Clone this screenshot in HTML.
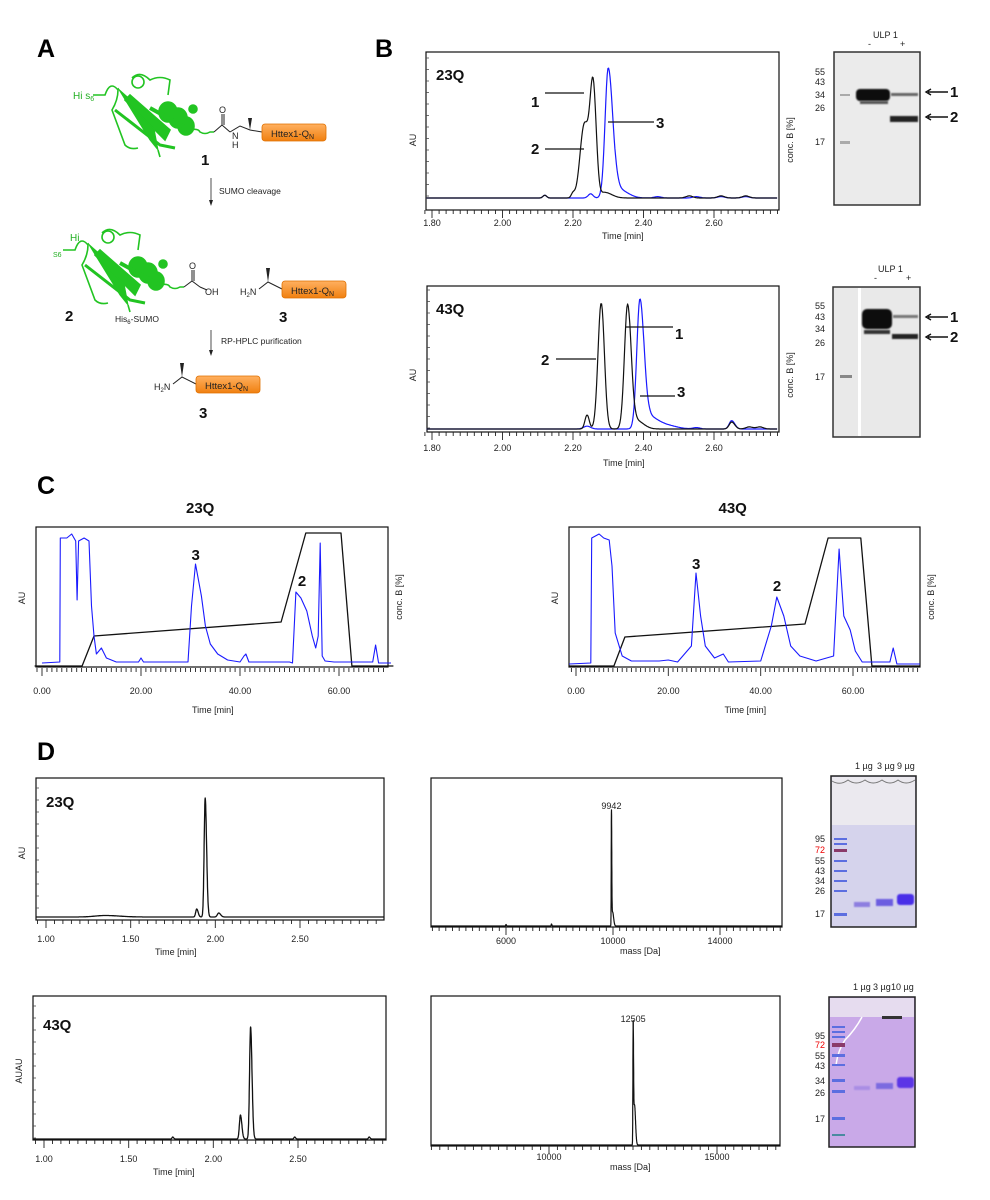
<!DOCTYPE html>
<html><head><meta charset="utf-8">
<style>
html,body{margin:0;padding:0;background:#fff;}
svg{display:block;font-family:"Liberation Sans",sans-serif;}
.tk{font-size:9px;fill:#222;}
.ax{font-size:9px;fill:#222;}
.bl{font-weight:bold;font-size:15px;fill:#111;}
.pl{font-weight:bold;font-size:25px;fill:#000;}
</style></head>
<body>
<svg id="fig" width="990" height="1200" viewBox="0 0 990 1200" xmlns="http://www.w3.org/2000/svg">
<defs>
 <filter id="blur1" x="-50%" y="-50%" width="200%" height="200%"><feGaussianBlur stdDeviation="1.2"/></filter>
 <filter id="blur2" x="-50%" y="-50%" width="200%" height="200%"><feGaussianBlur stdDeviation="0.7"/></filter>
 <linearGradient id="og" x1="0" y1="0" x2="0" y2="1"><stop offset="0" stop-color="#ffb060"/><stop offset="1" stop-color="#f08010"/></linearGradient>
</defs>

<text class="pl" x="37" y="57">A</text>
<text class="pl" x="375" y="57">B</text>
<text class="pl" x="37" y="494">C</text>
<text class="pl" x="37" y="760">D</text>

<g id="protein1" fill="none" stroke="#22c422" stroke-width="1.6">
 <path d="M93,95 L105,95 Q110,80 118,90 Q118,100 112,110 L125,145 Q130,150 138,148"/>
 <path d="M118,88 L150,140 L158,150 L152,118" fill="#22c422" stroke-width="1"/>
 <path d="M125,100 L165,140 L170,130 L130,95 Z" fill="#22c422"/>
 <path d="M115,110 L160,145 L175,148" stroke-width="3"/>
 <circle cx="138" cy="82" r="6"/>
 <path d="M132,78 Q140,70 150,80 Q160,75 170,80 L168,95"/>
 <ellipse cx="168" cy="112" rx="9" ry="10" fill="#22c422"/>
 <ellipse cx="178" cy="118" rx="9" ry="10" fill="#22c422"/>
 <ellipse cx="186" cy="126" rx="8" ry="9" fill="#22c422"/>
 <path d="M150,108 L190,130" stroke-width="4"/>
 <circle cx="193" cy="109" r="4" fill="#22c422"/>
 <path d="M190,130 Q198,128 200,132 Q205,135 210,132 L214,132"/>
 <path d="M158,150 L160,157"/>
</g>
<text x="73" y="99" font-size="10" fill="#22b022">Hi s<tspan font-size="7" dy="2">6</tspan></text>
<path d="M214,132 L222,125 L230,132 M222,125 L222,114 M224,125 L224,114 M230,132 L240,126 L250,130 L262,132" fill="none" stroke="#222" stroke-width="1"/>
<path d="M250,130 L248,118 L252,118 Z" fill="#222"/>
<text x="219" y="113" font-size="9" fill="#222">O</text>
<text x="232" y="139" font-size="9" fill="#222">N</text>
<text x="232" y="148" font-size="9" fill="#222">H</text>
<rect x="262" y="124" width="64" height="17" rx="3" fill="url(#og)" stroke="#e07000" stroke-width="0.8"/>
<text x="271" y="137" font-size="9.5" fill="#222">Httex1-Q<tspan font-size="7" dy="2">N</tspan></text>
<text class="bl" x="201" y="165" font-size="19">1</text>
<path d="M211,178 L211,203" stroke="#222" stroke-width="0.8"/><path d="M209,200 L211,206 L213,200 Z" fill="#222"/>
<text x="219" y="194" font-size="8.5" fill="#222">SUMO cleavage</text>

<use href="#protein1" transform="translate(-30,155)"/>
<text x="70" y="241" font-size="10" fill="#22b022">Hi</text>
<text x="53" y="257" font-size="7" fill="#22b022">S<tspan>6</tspan></text>
<path d="M184,287 L192,281 L200,287 M192,281 L192,270 M194,281 L194,270 M200,287 L207,290" fill="none" stroke="#222" stroke-width="1"/>
<text x="189" y="269" font-size="9" fill="#222">O</text>
<text x="205" y="295" font-size="9" fill="#222">OH</text>
<text class="bl" x="65" y="321" font-size="19">2</text>
<text x="115" y="322" font-size="8.5" fill="#222">His<tspan font-size="6" dy="2">6</tspan><tspan dy="-2">-SUMO</tspan></text>
<text x="240" y="295" font-size="9" fill="#222">H<tspan font-size="6" dy="2">2</tspan><tspan dy="-2">N</tspan></text>
<path d="M259,289 L268,282 L282,289" fill="none" stroke="#222" stroke-width="1"/><path d="M268,282 L266,268 L270,268 Z" fill="#222"/>
<rect x="282" y="281" width="64" height="17" rx="3" fill="url(#og)" stroke="#e07000" stroke-width="0.8"/>
<text x="291" y="294" font-size="9.5" fill="#222">Httex1-Q<tspan font-size="7" dy="2">N</tspan></text>
<text class="bl" x="279" y="322" font-size="19">3</text>
<path d="M211,330 L211,353" stroke="#222" stroke-width="0.8"/><path d="M209,350 L211,356 L213,350 Z" fill="#222"/>
<text x="221" y="344" font-size="8.5" fill="#222">RP-HPLC purification</text>
<text x="154" y="390" font-size="9" fill="#222">H<tspan font-size="6" dy="2">2</tspan><tspan dy="-2">N</tspan></text>
<path d="M173,384 L182,377 L196,384" fill="none" stroke="#222" stroke-width="1"/><path d="M182,377 L180,363 L184,363 Z" fill="#222"/>
<rect x="196" y="376" width="64" height="17" rx="3" fill="url(#og)" stroke="#e07000" stroke-width="0.8"/>
<text x="205" y="389" font-size="9.5" fill="#222">Httex1-Q<tspan font-size="7" dy="2">N</tspan></text>
<text class="bl" x="199" y="418" font-size="19">3</text>

<g>
 <rect x="834" y="52" width="86" height="153" fill="#ebebeb" stroke="#333" stroke-width="1.5"/>
 <rect x="856" y="89" width="34" height="12" rx="4" fill="#111" filter="url(#blur2)"/>
 <rect x="860" y="101" width="28" height="3" fill="#555" filter="url(#blur2)"/>
 <rect x="891" y="93" width="27" height="3" fill="#666" filter="url(#blur2)"/>
 <rect x="890" y="116" width="28" height="6" fill="#222" filter="url(#blur2)"/>
 <rect x="840" y="94" width="10" height="2" fill="#aaa"/>
 <rect x="840" y="141" width="10" height="3" fill="#aaa"/>
</g>
<text class="tk" x="873" y="38">ULP 1</text>
<text class="tk" x="868" y="47">-</text><text class="tk" x="900" y="47">+</text>
<g class="tk" font-size="8.5">
 <text x="815" y="75">55</text><text x="815" y="85">43</text><text x="815" y="98">34</text><text x="815" y="111">26</text><text x="815" y="145">17</text>
</g>
<path d="M948,92 L928,92 M931,89 L926,92 L931,95 M948,117 L928,117 M931,114 L926,117 L931,120" stroke="#111" stroke-width="1.4" fill="none"/>
<text class="bl" x="950" y="97">1</text><text class="bl" x="950" y="122">2</text>

<g>
 <rect x="833" y="287" width="87" height="150" fill="#e9e9e9" stroke="#333" stroke-width="1.5"/>
 <rect x="858" y="288" width="3" height="148" fill="#fff"/>
 <rect x="862" y="309" width="30" height="20" rx="5" fill="#111" filter="url(#blur2)"/>
 <rect x="864" y="330" width="26" height="4" fill="#333" filter="url(#blur2)"/>
 <rect x="893" y="315" width="25" height="3" fill="#777" filter="url(#blur2)"/>
 <rect x="892" y="334" width="26" height="5" fill="#222" filter="url(#blur2)"/>
 <rect x="840" y="375" width="12" height="3" fill="#888"/>
</g>
<text class="tk" x="878" y="272">ULP 1</text>
<text class="tk" x="874" y="281">-</text><text class="tk" x="906" y="281">+</text>
<g class="tk" font-size="8.5">
 <text x="815" y="309">55</text><text x="815" y="320">43</text><text x="815" y="332">34</text><text x="815" y="346">26</text><text x="815" y="380">17</text>
</g>
<path d="M948,317 L928,317 M931,314 L926,317 L931,320 M948,337 L928,337 M931,334 L926,337 L931,340" stroke="#111" stroke-width="1.4" fill="none"/>
<text class="bl" x="950" y="322">1</text><text class="bl" x="950" y="342">2</text>

<g>
 <rect x="831" y="776" width="85" height="151" fill="#d5d3ec" stroke="#222" stroke-width="1.5"/>
 <rect x="832" y="777" width="83" height="48" fill="#ebe9ef"/>
 <path d="M832,781 Q840,786 848,780 Q856,786 865,780 Q873,786 882,780 Q890,786 898,780 Q906,786 915,780" stroke="#777" fill="none"/>
 <g fill="#5c6ee0"><rect x="834" y="838" width="13" height="2"/><rect x="834" y="843" width="13" height="2"/><rect x="834" y="849" width="13" height="3" fill="#8a3a6a"/><rect x="834" y="860" width="13" height="2"/><rect x="834" y="870" width="13" height="2"/><rect x="834" y="880" width="13" height="2"/><rect x="834" y="890" width="13" height="2"/><rect x="834" y="913" width="13" height="3"/></g>
 <rect x="854" y="902" width="16" height="5" fill="#8d7ee0" filter="url(#blur2)"/>
 <rect x="876" y="899" width="17" height="7" fill="#6c5de0" filter="url(#blur2)"/>
 <rect x="897" y="894" width="17" height="11" rx="3" fill="#4a2ee8" filter="url(#blur2)"/>
</g>
<g class="tk" font-size="8.5">
 <text x="855" y="769">1 µg</text><text x="877" y="769">3 µg</text><text x="897" y="769">9 µg</text>
 <text x="815" y="842">95</text><text x="815" y="853" fill="#e00">72</text><text x="815" y="864">55</text><text x="815" y="874">43</text><text x="815" y="884">34</text><text x="815" y="894">26</text><text x="815" y="917">17</text>
</g>
<g>
 <rect x="829" y="997" width="86" height="150" fill="#c9a9e8" stroke="#222" stroke-width="1.5"/>
 <rect x="830" y="998" width="84" height="19" fill="#e6dcef"/>
 <rect x="882" y="1016" width="20" height="3" fill="#333"/>
 <path d="M862,1017 Q855,1030 845,1040 Q838,1050 836,1065" stroke="#fff" stroke-width="1.5" fill="none"/>
 <g fill="#5c6ee0"><rect x="832" y="1026" width="13" height="2"/><rect x="832" y="1031" width="13" height="2"/><rect x="832" y="1036" width="13" height="2"/><rect x="832" y="1043" width="13" height="4" fill="#8a3a6a"/><rect x="832" y="1054" width="13" height="3"/><rect x="832" y="1064" width="13" height="2"/><rect x="832" y="1079" width="13" height="3"/><rect x="832" y="1090" width="13" height="3"/><rect x="832" y="1117" width="13" height="3"/><rect x="832" y="1134" width="13" height="2" fill="#4a8aa0"/></g>
 <rect x="854" y="1086" width="16" height="4" fill="#a98ee4" filter="url(#blur2)"/>
 <rect x="876" y="1083" width="17" height="6" fill="#7c6ae0" filter="url(#blur2)"/>
 <rect x="897" y="1077" width="17" height="11" rx="3" fill="#5b36e6" filter="url(#blur2)"/>
</g>
<g class="tk" font-size="8.5">
 <text x="853" y="990">1 µg</text><text x="873" y="990">3 µg</text><text x="891" y="990">10 µg</text>
 <text x="815" y="1039">95</text><text x="815" y="1048" fill="#e00">72</text><text x="815" y="1059">55</text><text x="815" y="1069">43</text><text x="815" y="1084">34</text><text x="815" y="1096">26</text><text x="815" y="1122">17</text>
</g>

<g id="charts"></g>
</svg>

<script>
const b23BlackC = [2.12, 2.20, 2.232, 2.257, 2.29, 2.53, 2.62, 2.69];
const b23BlackH = [2, 3, 52, 80, 4, 1.5, 1.5, 1.5];
const b23BlackWL = [0.005, 0.005, 0.012, 0.009, 0.01, 0.01, 0.01, 0.01];
const b23BlackWR = [0.005, 0.005, 0.012, 0.009, 0.02, 0.01, 0.01, 0.01];
const b23BlueC = [2.12, 2.25, 2.30, 2.33, 2.44, 2.55, 2.62, 2.69];
const b23BlueH = [2, 3, 93, 6, 1, 1, 1, 1];
const b23BlueWL = [0.005, 0.007, 0.009, 0.01, 0.01, 0.01, 0.01, 0.01];
const b23BlueWR = [0.005, 0.007, 0.013, 0.025, 0.01, 0.01, 0.01, 0.01];
const b43BlackC = [2.24, 2.28, 2.355, 2.38, 2.65, 2.70, 2.73];
const b43BlackH = [10, 90, 89, 6, 5, 1.5, 1.5];
const b43BlackWL = [0.006, 0.009, 0.009, 0.01, 0.007, 0.01, 0.01];
const b43BlackWR = [0.006, 0.009, 0.01, 0.02, 0.009, 0.01, 0.01];
const b43BlueC = [2.24, 2.39, 2.42, 2.46, 2.55, 2.65];
const b43BlueH = [2, 93, 8, 3, 1, 6];
const b43BlueWL = [0.01, 0.009, 0.01, 0.02, 0.01, 0.007];
const b43BlueWR = [0.01, 0.012, 0.02, 0.03, 0.01, 0.009];
const bTicks = [1.80, 2.00, 2.20, 2.40, 2.60];

const c23Times = [0, 3.6, 3.7, 5, 6, 6.8, 7.1, 7.4, 8.5, 9.5, 10, 10.5, 11, 12, 13, 15, 19.5, 20, 20.5, 29.5, 30.2, 31, 32.2, 33, 34, 35.5, 37.5, 40, 40.8, 41.2, 41.8, 50, 50.6, 51.3, 52.3, 53.5, 54.6, 55.3, 55.8, 56.2, 56.6, 57.2, 59, 66.8, 67.4, 68, 70.5];
const c23Values = [3, 4, 128, 128, 132, 125, 66, 125, 128, 125, 60, 30, 12, 18, 8, 4, 4, 8, 4, 4, 60, 102, 70, 40, 22, 12, 6, 4, 10, 12, 4, 4, 3, 74, 68, 55, 30, 18, 30, 123, 10, 5, 4, 4, 21, 3, 3];
const c23GradT = [-1.5, 8.1, 10.5, 48.3, 53.3, 60.4, 62.6, 71];
const c23GradV = [0, 0, 30, 44, 133, 133, 0, 0];
const c43Times = [-1.5, 3.2, 3.4, 5, 6, 7.2, 7.8, 8.5, 10, 12, 18, 20, 22, 25, 26, 27, 28, 30, 31.9, 33, 40, 42.3, 43.5, 45, 46.5, 48.5, 52, 55.8, 57, 58, 59.4, 60.5, 62, 68, 68.7, 69.5, 74.5];
const c43Values = [2, 3, 128, 132, 128, 126, 100, 33, 10, 5, 5, 6, 4, 20, 93, 50, 20, 8, 12, 4, 5, 40, 69, 50, 20, 10, 5, 10, 117, 50, 36, 15, 4, 4, 18, 2, 2];
const c43GradT = [-1.5, 8.2, 10.6, 49.6, 54.6, 61.7, 64.1, 74.5];
const c43GradV = [0, 0, 29, 42, 128, 128, 0, 0];
const cTicks = [0, 20, 40, 60];

const d23C = [1.35, 1.89, 1.94, 2.02];
const d23H = [1.5, 8, 119, 4];
const d23W = [0.06, 0.006, 0.006, 0.008];
const d43C = [1.76, 2.16, 2.22, 2.48, 2.92];
const d43H = [2, 24, 112, 2, 2];
const d43W = [0.004, 0.006, 0.006, 0.004, 0.004];
const dTicks = [1.00, 1.50, 2.00, 2.50];
const m23C = [6000, 7700, 9942, 9985];
const m23H = [1.5, 2, 113, 14];
const m23W = [10, 10, 8, 25];
const m23Ticks = [6000, 10000, 14000];
const m43C = [12505, 12545];
const m43H = [119, 40];
const m43W = [8, 20];
const m43Ticks = [10000, 15000];

const NS = 'http://www.w3.org/2000/svg';
const root = document.getElementById('charts');
function el(tag, parent) { const e = document.createElementNS(NS, tag); parent.appendChild(e); return e; }
function peakVal(t, c, h, wl, wr) {
  let v = 0;
  for (let i = 0; i < c.length; i++) { const w = t < c[i] ? wl[i] : wr[i]; v += h[i] * Math.exp(-0.5 * Math.pow((t - c[i]) / w, 2)); }
  return v;
}
function linScale(d0, d1, r0, r1) { return v => r0 + (v - d0) / (d1 - d0) * (r1 - r0); }

function frame(g, x, y, w, h) {
  const r = el('rect', g);
  
  
  r.setAttribute('x', x); r.setAttribute('y', y); r.setAttribute('width', w); r.setAttribute('height', h);
  r.setAttribute('fill', 'none'); r.setAttribute('stroke', '#111'); r.setAttribute('stroke-width', '1.2');
}
function xAxis(g, xs, dom0, dom1, minorStep, majorVals, y, fmt, labelY) {
  let d = '';
  const s0 = Math.ceil(dom0 / minorStep) * minorStep;
  for (let v = s0; v <= dom1 + 1e-9; v += minorStep) { const x = xs(v).toFixed(1); d += `M${x},${y}L${x},${y + 4}`; }
  majorVals.forEach(v => { const x = xs(v).toFixed(1); d += `M${x},${y}L${x},${y + 8}`; });
  const p = el('path', g);
  
  
  p.setAttribute('d', d); p.setAttribute('stroke', '#222'); p.setAttribute('stroke-width', '0.9');
  majorVals.forEach(v => {
    const t = el('text', g);
    
    
    t.setAttribute('class', 'tk'); t.setAttribute('x', xs(v)); t.setAttribute('y', labelY); t.setAttribute('text-anchor', 'middle');
    t.textContent = fmt(v);
  });
}
function yTicks(g, x, y0, y1, step) {
  let d = '';
  for (let y = y1; y <= y0; y += step) d += `M${x},${y.toFixed(1)}L${x + 3},${y.toFixed(1)}`;
  const p = el('path', g);
  
  
  p.setAttribute('d', d); p.setAttribute('stroke', '#444'); p.setAttribute('stroke-width', '0.8');
}
function label(g, txt, x, y, cls, name, rot) {
  const t = el('text', g);
  
  
  t.setAttribute('class', cls); t.setAttribute('x', x); t.setAttribute('y', y);
  if (rot) { t.setAttribute('transform', `rotate(-90 ${x} ${y})`); t.setAttribute('text-anchor', 'middle'); }
  t.textContent = txt; return t;
}
function linePath(g, pts, color, width, name) {
  const p = el('path', g);
  
  
  p.setAttribute('d', 'M' + pts.map(q => q[0].toFixed(1) + ',' + q[1].toFixed(1)).join('L'));
  p.setAttribute('fill', 'none'); p.setAttribute('stroke', color); p.setAttribute('stroke-width', width); p.setAttribute('stroke-linejoin', 'round');
}
function peakTrace(g, xs, ys, d0, d1, step, c, h, wl, wr, color, width, name) {
  const pts = [];
  for (let t = d0; t <= d1 + 1e-9; t += step) pts.push([xs(t), ys(peakVal(t, c, h, wl, wr))]);
  linePath(g, pts, color, width, name);
}
function pointTrace(g, xs, ys, T, V, color, width, name) {
  linePath(g, T.map((t, i) => [xs(t), ys(V[i])]), color, width, name);
}
function callout(g, txt, lx, ly, x1, x2, y, name) {
  const l = el('line', g);
  
  
  l.setAttribute('x1', x1); l.setAttribute('x2', x2); l.setAttribute('y1', y); l.setAttribute('y2', y);
  l.setAttribute('stroke', '#111'); l.setAttribute('stroke-width', '1.2');
  label(g, txt, lx, ly, 'bl', name);
}

(function () {
  const g = el('g', root);
  
  
  const xs = linScale(1.80, 2.60, 432, 714), ys = linScale(0, 100, 198, 58);
  frame(g, 426, 52, 353, 158);
  yTicks(g, 426, 198, 58, 11.5);
  peakTrace(g, xs, ys, 1.785, 2.78, 0.002, b23BlueC, b23BlueH, b23BlueWL, b23BlueWR, '#1a1aff', 1.2, 'trace-23q-purified-blue');
  peakTrace(g, xs, ys, 1.785, 2.78, 0.002, b23BlackC, b23BlackH, b23BlackWL, b23BlackWR, '#111', 1.2, 'trace-23q-reaction-black');
  xAxis(g, xs, 1.78, 2.78, 0.02, bTicks, 210, v => v.toFixed(2), 226);
  label(g, 'Time [min]', 602, 239, 'ax', 'x-axis-title');
  label(g, 'AU', 416, 140, 'ax', 'y-axis-title', true);
  label(g, 'conc. B [%]', 793, 140, 'ax', 'y2-axis-title', true);
  label(g, '23Q', 436, 80, 'bl', 'chart-title-23q');
  callout(g, '1', 531, 107, 545, 584, 93, 'peak-label-1');
  callout(g, '2', 531, 154, 545, 584, 149, 'peak-label-2');
  callout(g, '3', 656, 128, 608, 654, 122, 'peak-label-3');
})();

(function () {
  const g = el('g', root);
  
  
  const xs = linScale(1.80, 2.60, 432, 714), ys = linScale(0, 100, 429, 289);
  frame(g, 427, 286, 352, 146);
  yTicks(g, 427, 429, 290, 11.5);
  peakTrace(g, xs, ys, 1.785, 2.78, 0.002, b43BlueC, b43BlueH, b43BlueWL, b43BlueWR, '#1a1aff', 1.2, 'trace-43q-purified-blue');
  peakTrace(g, xs, ys, 1.785, 2.78, 0.002, b43BlackC, b43BlackH, b43BlackWL, b43BlackWR, '#111', 1.2, 'trace-43q-reaction-black');
  xAxis(g, xs, 1.78, 2.78, 0.02, bTicks, 432, v => v.toFixed(2), 451);
  label(g, 'Time [min]', 603, 466, 'ax', 'x-axis-title');
  label(g, 'AU', 416, 375, 'ax', 'y-axis-title', true);
  label(g, 'conc. B [%]', 793, 375, 'ax', 'y2-axis-title', true);
  label(g, '43Q', 436, 314, 'bl', 'chart-title-43q');
  callout(g, '1', 675, 339, 626, 673, 327, 'peak-label-1');
  callout(g, '2', 541, 365, 556, 596, 359, 'peak-label-2');
  callout(g, '3', 677, 397, 640, 675, 396, 'peak-label-3');
})();

function drawC(name, bx, bw, x0px, x60px, times, vals, gT, gV, title, pk3, pk2) {
  const g = el('g', root);
  
  
  const xs = linScale(0, 60, x0px, x60px), ys = linScale(0, 100, 666, 566);
  const d1 = (bx + bw - x0px) / (x60px - x0px) * 60, d0 = (bx - x0px) / (x60px - x0px) * 60;
  frame(g, bx, 527, bw, 140);
  pointTrace(g, xs, ys, gT, gV, '#111', 1.3, 'gradient-conc-b');
  pointTrace(g, xs, ys, times, vals, '#1a1aff', 1.1, 'trace-prep-hplc');
  xAxis(g, xs, d0, d1, 1, cTicks, 668, v => v.toFixed(2), 694);
  label(g, 'Time [min]', (bx + bw / 2) - 20, 713, 'ax', 'x-axis-title');
  label(g, 'AU', bx - 11, 598, 'ax', 'y-axis-title', true);
  label(g, 'conc. B [%]', bx + bw + 14, 597, 'ax', 'y2-axis-title', true);
  label(g, title, (bx + bw / 2) - 26, 513, 'bl', 'chart-title');
  label(g, '3', xs(pk3[0]) - 4, ys(pk3[1]) - 4, 'bl', 'peak-label-3');
  label(g, '2', xs(pk2[0]) - 4, ys(pk2[1]) - 6, 'bl', 'peak-label-2');
}
drawC('chart-c-23q', 36, 352, 42, 339, c23Times, c23Values, c23GradT, c23GradV, '23Q', [31, 102], [52.5, 74]);
drawC('chart-c-43q', 569, 351, 576, 853, c43Times, c43Values, c43GradT, c43GradV, '43Q', [26, 93], [43.5, 69]);

function drawDH(name, bx, by, bw, bh, base, x1px, x25px, c, h, w, title, titleY, yl) {
  const g = el('g', root);
  
  
  const xs = linScale(1.0, 2.5, x1px, x25px), ys = linScale(0, 100, base, base - 100);
  const d0 = (bx - x1px) / (x25px - x1px) * 1.5 + 1, d1 = (bx + bw - x1px) / (x25px - x1px) * 1.5 + 1;
  frame(g, bx, by, bw, bh);
  yTicks(g, bx, base, by + 10, 12);
  peakTrace(g, xs, ys, d0, d1, 0.001, c, h, w, w.map(x => x * 1.4), '#111', 1.3, 'trace-analytical-hplc');
  xAxis(g, xs, d0, d1, 0.05, dTicks, by + bh, v => v.toFixed(2), by + bh + 22);
  label(g, 'Time [min]', xs(1.75) - 18, by + bh + 35, 'ax', 'x-axis-title');
  label(g, yl, bx - 11, by + 75, 'ax', 'y-axis-title', true);
  label(g, title, bx + 10, titleY, 'bl', 'chart-title');
}
drawDH('chart-d-hplc-23q', 36, 778, 348, 142, 917, 46, 300, d23C, d23H, d23W, '23Q', 807, 'AU');
drawDH('chart-d-hplc-43q', 33, 996, 353, 144, 1139, 44, 298, d43C, d43H, d43W, '43Q', 1030, 'AUAU');

function drawMS(name, bx, by, bw, bh, base, ta, pa, tb, pb, c, h, w, ticks, peakLabel, labY, titleX) {
  const g = el('g', root);
  
  
  const xs = linScale(ta, tb, pa, pb), ys = linScale(0, 100, base, base - 100);
  const d0 = ta + (bx - pa) / (pb - pa) * (tb - ta), d1 = ta + (bx + bw - pa) / (pb - pa) * (tb - ta);
  frame(g, bx, by, bw, bh);
  const pts = [];
  for (let m = d0; m <= d1; m += 2) pts.push([xs(m), ys(peakVal(m, c, h, w, w.map(x => x * 1.5)))]);
  linePath(g, pts, '#111', 1.2, 'mass-spectrum-trace');
  xAxis(g, xs, d0, d1, 250, ticks, by + bh, v => String(v), labY);
  label(g, 'mass [Da]', titleX, labY + 10, 'ax', 'x-axis-title');
  let mi = 0; for (let i = 1; i < h.length; i++) if (h[i] > h[mi]) mi = i;
  const t = label(g, String(peakLabel), xs(c[mi]), ys(h[mi]) - 4, 'tk', 'peak-mass-label');
  t.setAttribute('text-anchor', 'middle');
}
drawMS('chart-d-ms-23q', 431, 778, 351, 149, 926, 6000, 506, 10000, 613, m23C, m23H, m23W, m23Ticks, 9942, 944, 620);
drawMS('chart-d-ms-43q', 431, 996, 349, 150, 1145, 10000, 549, 15000, 717, m43C, m43H, m43W, m43Ticks, 12505, 1160, 610);
</script>
</body></html>
